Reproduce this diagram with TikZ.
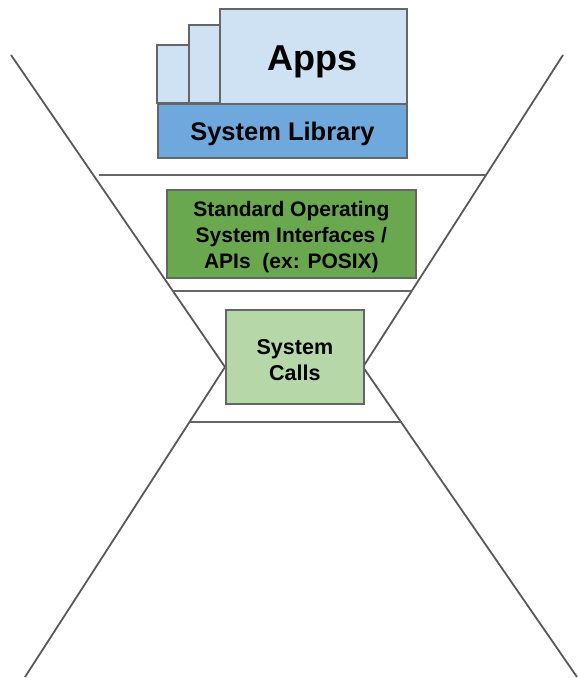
\documentclass[tikz,border=0pt]{standalone}
\usepackage{fontspec}
\setmainfont{Liberation Sans}
\definecolor{appfill}{HTML}{CFE2F3}
\definecolor{libfill}{HTML}{6FA8DC}
\definecolor{apifill}{HTML}{6AA84F}
\definecolor{callfill}{HTML}{B6D7A8}
\definecolor{edge}{HTML}{666666}
\definecolor{linegray}{HTML}{595959}
\begin{document}
\begin{tikzpicture}[x=1pt,y=-1pt,
  boxstyle/.style={draw=edge,line width=1.8pt},
  funnel/.style={draw=linegray,line width=1.8pt},
  layer/.style={draw=gray!80!black,line width=1.6pt},
  txt/.style={font=\bfseries,align=center,text=black}]
\useasboundingbox (0,0) rectangle (578,678);
% funnel lines
\coordinate (lt) at (11,55);
\coordinate (lm) at (225,367);
\coordinate (lb) at (25,677);
\coordinate (rt) at (563,55);
\coordinate (rm) at (363,367);
\coordinate (rb) at (577,677);
\draw[funnel] (lt) -- (lm) -- (lb);
\draw[funnel] (rt) -- (rm) -- (rb);
% layer lines
\coordinate (h1l) at (99,175); \coordinate (h1r) at (487,175);
\coordinate (h2l) at (172,291); \coordinate (h2r) at (412,291);
\coordinate (h3l) at (190,422); \coordinate (h3r) at (402,422);
\draw[layer] (h1l) -- (h1r);
\draw[layer] (h2l) -- (h2r);
\draw[layer] (h3l) -- (h3r);
% apps stack
\filldraw[boxstyle,fill=appfill] (157,45) rectangle (300,103);
\filldraw[boxstyle,fill=appfill] (189,25) rectangle (300,103);
\node[boxstyle,fill=appfill,minimum width=187pt,minimum height=95pt,anchor=north west,inner sep=0pt] (apps) at (219,8) {};
\node[txt,font=\bfseries\fontsize{36}{40}\selectfont] (appst) at (312.5,62) {Apps};
\node[boxstyle,fill=libfill,minimum width=249pt,minimum height=54pt,anchor=north west,inner sep=0pt] (lib) at (157,103) {};
\node[txt,font=\bfseries\fontsize{25.5}{30}\selectfont] at ([yshift=-3pt]lib.center) {System Library};
% API box
\node[boxstyle,fill=apifill,minimum width=249pt,minimum height=88pt,anchor=north west,inner sep=0pt] (api) at (166,189) {};
\node[txt,font=\bfseries\fontsize{21}{26}\selectfont] at ([yshift=-3pt]api.center) {Standard Operating\\System Interfaces /\\APIs\ \ (ex: POSIX)};
% System calls
\node[boxstyle,fill=callfill,minimum width=138pt,minimum height=94pt,anchor=north west,inner sep=0pt] (calls) at (225,309) {};
\node[txt,font=\bfseries\fontsize{21.5}{26}\selectfont] at ([yshift=-3pt]calls.center) {System\\Calls};
\end{tikzpicture}
\end{document}
